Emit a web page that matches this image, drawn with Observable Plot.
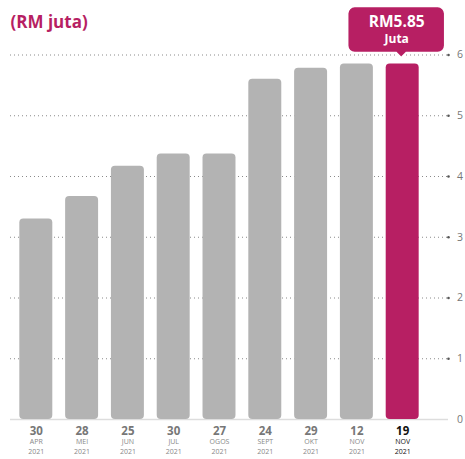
<!DOCTYPE html>
<html>
<head>
<meta charset="utf-8">
<script src="https://cdn.jsdelivr.net/npm/d3@7"></script>
<script src="https://cdn.jsdelivr.net/npm/@observablehq/plot@0.6"></script>
<style>
  html, body { margin: 0; padding: 0; background: #fff; }
  #chart svg { display: block; font-family: "Open Sans", sans-serif; }
</style>
</head>
<body>
<div id="chart"></div>
<script>
const title = "(RM juta)";
const days = ["30", "28", "25", "30", "27", "24", "29", "12", "19"];
const months = ["APR", "MEI", "JUN", "JUL", "OGOS", "SEPT", "OKT", "NOV", "NOV"];
const years = ["2021", "2021", "2021", "2021", "2021", "2021", "2021", "2021", "2021"];
const values = [3.30, 3.67, 4.17, 4.37, 4.37, 5.60, 5.78, 5.85, 5.85];
const yTicks = [0, 1, 2, 3, 4, 5, 6];
const calloutUnit = "Juta";

const HL = "#b71f63";
const GREY = "#b3b3b3";
const last = values.length - 1;

const data = days.map((d, i) => ({
  key: `${d} ${months[i]} ${years[i]}`,
  day: d, month: months[i], year: years[i], value: values[i],
  hl: i === last
}));
const hlData = data.filter(d => d.hl);

// callout box with pointer, drawn relative to the top of the highlighted bar
const calloutSymbol = {
  draw(ctx) {
    const l = -55, r = 42, t = -57.5, b = -11.5, rr = 7, px = -1.5, pw = 5, tip = -6.5;
    ctx.moveTo(l + rr, t);
    ctx.lineTo(r - rr, t);
    ctx.arcTo(r, t, r, t + rr, rr);
    ctx.lineTo(r, b - rr);
    ctx.arcTo(r, b, r - rr, b, rr);
    ctx.lineTo(px + pw, b);
    ctx.lineTo(px, tip);
    ctx.lineTo(px - pw, b);
    ctx.lineTo(l + rr, b);
    ctx.arcTo(l, b, l, b - rr, rr);
    ctx.lineTo(l, t + rr);
    ctx.arcTo(l, t, l + rr, t, rr);
    ctx.closePath();
  }
};

const chart = Plot.plot({
  width: 465,
  height: 459,
  marginTop: 54.5,
  marginBottom: 40,
  marginLeft: 6.5,
  marginRight: 33.5,
  x: { domain: data.map(d => d.key), padding: 0.28, round: false, axis: null },
  y: { domain: [0, 6], axis: null },
  marks: [
    Plot.ruleY(yTicks.filter(t => t > 0), {
      stroke: "#8a8a8a", strokeWidth: 1, strokeDasharray: "1,3",
      insetLeft: 3.5, insetRight: -16.5
    }),
    Plot.ruleY([0], { stroke: "#dddddd", strokeWidth: 1.5, insetLeft: 3.5, insetRight: -16.5 }),
    Plot.dot(yTicks.filter(t => t > 0), {
      y: d => d, frameAnchor: "right", dx: 16.5, r: 1.3, fill: "#555", stroke: "none"
    }),
    Plot.text(yTicks, {
      y: d => d, text: d => String(d), frameAnchor: "right", dx: 25,
      textAnchor: "start", fontSize: 10.5, fill: "#777"
    }),
    Plot.barY(data, {
      x: "key", y: "value", fill: d => d.hl ? HL : GREY, rx: 4
    }),
    Plot.text(data, {
      x: "key", text: "day", frameAnchor: "bottom", dy: 15,
      fontSize: 11.5, fontWeight: "bold", fill: d => d.hl ? "#111" : "#777"
    }),
    Plot.text(data, {
      x: "key", text: "month", frameAnchor: "bottom", dy: 24.5,
      fontSize: 7, fontWeight: d => d.hl ? "bold" : "normal", fill: d => d.hl ? "#111" : "#888"
    }),
    Plot.text(data, {
      x: "key", text: "year", frameAnchor: "bottom", dy: 34,
      fontSize: 7, fontWeight: d => d.hl ? "bold" : "normal", fill: d => d.hl ? "#111" : "#888"
    }),
    Plot.dot(hlData, {
      x: "key", y: "value", symbol: calloutSymbol, r: 10, fill: HL, stroke: "white", strokeWidth: 1.5
    }),
    Plot.text(hlData, {
      x: "key", y: "value", text: d => `RM${d.value.toFixed(2)}`, dx: -6, dy: -42.5,
      fontSize: 15.5, fontWeight: "bold", fill: "white"
    }),
    Plot.text(hlData, {
      x: "key", y: "value", text: () => calloutUnit, dx: -6, dy: -24.5,
      fontSize: 12, fontWeight: "bold", fill: "white"
    }),
    Plot.text([title], {
      frameAnchor: "top-left", dx: 3.5, dy: -39.5, textAnchor: "start",
      fontSize: 17, fontWeight: "bold", fill: HL
    })
  ]
});
document.getElementById("chart").append(chart);
</script>
</body>
</html>
